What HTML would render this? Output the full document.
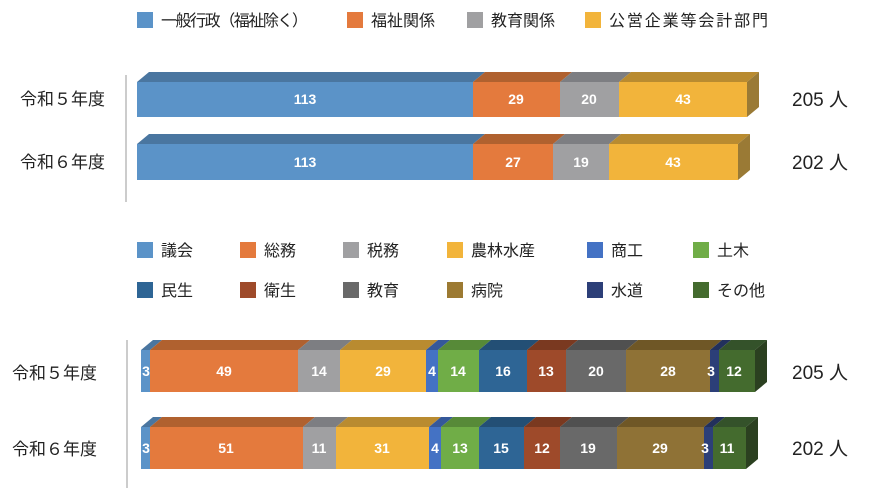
<!DOCTYPE html>
<html><head><meta charset="utf-8"><style>
body{margin:0;background:#fff;width:884px;height:488px;overflow:hidden}
svg text{font-family:"Liberation Sans","Noto Sans CJK JP",sans-serif}
.v{fill:#fff;font-weight:bold;font-size:14px;text-anchor:middle}
.l{fill:#222;font-size:16px}
.k{fill:#222;font-size:17px}
.r{fill:#222;font-size:19px}
</style></head><body>
<svg width="884" height="488" xmlns="http://www.w3.org/2000/svg">
<!-- top legend -->
<rect x="137" y="12" width="16" height="16" fill="#5b93c8"/><text class="l" x="161" y="26" textLength="147">一般行政（福祉除く）</text>
<rect x="347" y="12" width="16" height="16" fill="#e47a3d"/><text class="l" x="371" y="26">福祉関係</text>
<rect x="467" y="12" width="16" height="16" fill="#a0a0a2"/><text class="l" x="491" y="26">教育関係</text>
<rect x="585" y="12" width="16" height="16" fill="#f2b43b"/><text class="l" x="609" y="26" textLength="159">公営企業等会計部門</text>
<line x1="126" y1="75" x2="126" y2="202" stroke="#ccc" stroke-width="2"/>
<text class="k" x="20" y="105">令和５年度</text>
<text class="k" x="20" y="168">令和６年度</text>
<text class="r" x="792" y="106">205 人</text>
<text class="r" x="792" y="169">202 人</text>
<!-- top row1 -->
<polygon points="137,82 149,72 485,72 473,82" fill="#4a76a0"/>
<polygon points="473,82 485,72 572,72 560,82" fill="#b0612f"/>
<polygon points="560,82 572,72 631,72 619,82" fill="#7d7e82"/>
<polygon points="619,82 631,72 759,72 747,82" fill="#b98b30"/>
<polygon points="747,82 759,72 759,107 747,117" fill="#9a7a35"/>
<rect x="137" y="82" width="336" height="35" fill="#5b93c8"/>
<rect x="473" y="82" width="87" height="35" fill="#e47a3d"/>
<rect x="560" y="82" width="59" height="35" fill="#a0a0a2"/>
<rect x="619" y="82" width="128" height="35" fill="#f2b43b"/>
<text class="v" x="305" y="104">113</text><text class="v" x="516" y="104">29</text><text class="v" x="589" y="104">20</text><text class="v" x="683" y="104">43</text>
<!-- top row2 -->
<polygon points="137,144 149,134 485,134 473,144" fill="#4a76a0"/>
<polygon points="473,144 485,134 565,134 553,144" fill="#b0612f"/>
<polygon points="553,144 565,134 621,134 609,144" fill="#7d7e82"/>
<polygon points="609,144 621,134 750,134 738,144" fill="#b98b30"/>
<polygon points="738,144 750,134 750,170 738,180" fill="#9a7a35"/>
<rect x="137" y="144" width="336" height="36" fill="#5b93c8"/>
<rect x="473" y="144" width="80" height="36" fill="#e47a3d"/>
<rect x="553" y="144" width="56" height="36" fill="#a0a0a2"/>
<rect x="609" y="144" width="129" height="36" fill="#f2b43b"/>
<text class="v" x="305" y="167">113</text><text class="v" x="513" y="167">27</text><text class="v" x="581" y="167">19</text><text class="v" x="673" y="167">43</text>
<!-- bottom legend -->
<rect x="137" y="242" width="16" height="16" fill="#5b93c8"/><text class="l" x="161" y="256">議会</text>
<rect x="240" y="242" width="16" height="16" fill="#e47a3d"/><text class="l" x="264" y="256">総務</text>
<rect x="343" y="242" width="16" height="16" fill="#a0a0a2"/><text class="l" x="367" y="256">税務</text>
<rect x="447" y="242" width="16" height="16" fill="#f2b43b"/><text class="l" x="471" y="256">農林水産</text>
<rect x="587" y="242" width="16" height="16" fill="#4472c4"/><text class="l" x="611" y="256">商工</text>
<rect x="693" y="242" width="16" height="16" fill="#70ad47"/><text class="l" x="717" y="256">土木</text>
<rect x="137" y="282" width="16" height="16" fill="#2e6595"/><text class="l" x="161" y="296">民生</text>
<rect x="240" y="282" width="16" height="16" fill="#9e4a2a"/><text class="l" x="264" y="296">衛生</text>
<rect x="343" y="282" width="16" height="16" fill="#696969"/><text class="l" x="367" y="296">教育</text>
<rect x="447" y="282" width="16" height="16" fill="#9c7a32"/><text class="l" x="471" y="296">病院</text>
<rect x="587" y="282" width="16" height="16" fill="#2c3f78"/><text class="l" x="611" y="296">水道</text>
<rect x="693" y="282" width="16" height="16" fill="#446b2e"/><text class="l" x="717" y="296">その他</text>
<line x1="127" y1="340" x2="127" y2="488" stroke="#ccc" stroke-width="2"/>
<text class="k" x="12" y="379">令和５年度</text>
<text class="k" x="12" y="455">令和６年度</text>
<text class="r" x="792" y="379">205 人</text>
<text class="r" x="792" y="455">202 人</text>
<!-- bottom row1 -->
<g>
<polygon points="141,350 153,340 162,340 150,350" fill="#4a76a0"/>
<polygon points="150,350 162,340 310,340 298,350" fill="#b0612f"/>
<polygon points="298,350 310,340 352,340 340,350" fill="#7d7e82"/>
<polygon points="340,350 352,340 438,340 426,350" fill="#b98b30"/>
<polygon points="426,350 438,340 450,340 438,350" fill="#35589a"/>
<polygon points="438,350 450,340 491,340 479,350" fill="#578a38"/>
<polygon points="479,350 491,340 539,340 527,350" fill="#234f75"/>
<polygon points="527,350 539,340 578,340 566,350" fill="#7a3920"/>
<polygon points="566,350 578,340 638,340 626,350" fill="#505050"/>
<polygon points="626,350 638,340 722,340 710,350" fill="#6f5726"/>
<polygon points="710,350 722,340 731,340 719,350" fill="#22305c"/>
<polygon points="719,350 731,340 767,340 755,350" fill="#34522a"/>
<polygon points="755,350 767,340 767,382 755,392" fill="#2b4020"/>
<rect x="141" y="350" width="9" height="42" fill="#5b93c8"/>
<rect x="150" y="350" width="148" height="42" fill="#e47a3d"/>
<rect x="298" y="350" width="42" height="42" fill="#a0a0a2"/>
<rect x="340" y="350" width="86" height="42" fill="#f2b43b"/>
<rect x="426" y="350" width="12" height="42" fill="#4472c4"/>
<rect x="438" y="350" width="41" height="42" fill="#70ad47"/>
<rect x="479" y="350" width="48" height="42" fill="#2e6595"/>
<rect x="527" y="350" width="39" height="42" fill="#9e4a2a"/>
<rect x="566" y="350" width="60" height="42" fill="#696969"/>
<rect x="626" y="350" width="84" height="42" fill="#8f7236"/>
<rect x="710" y="350" width="9" height="42" fill="#2c3f78"/>
<rect x="719" y="350" width="36" height="42" fill="#446b2e"/>
<text class="v" x="146" y="376">3</text><text class="v" x="224" y="376">49</text><text class="v" x="319" y="376">14</text><text class="v" x="383" y="376">29</text><text class="v" x="432" y="376">4</text><text class="v" x="458" y="376">14</text><text class="v" x="503" y="376">16</text><text class="v" x="546" y="376">13</text><text class="v" x="596" y="376">20</text><text class="v" x="668" y="376">28</text><text class="v" x="711" y="376">3</text><text class="v" x="734" y="376">12</text>
</g>
<!-- bottom row2 -->
<g>
<polygon points="141,427 153,417 162,417 150,427" fill="#4a76a0"/>
<polygon points="150,427 162,417 315,417 303,427" fill="#b0612f"/>
<polygon points="303,427 315,417 348,417 336,427" fill="#7d7e82"/>
<polygon points="336,427 348,417 441,417 429,427" fill="#b98b30"/>
<polygon points="429,427 441,417 453,417 441,427" fill="#35589a"/>
<polygon points="441,427 453,417 491,417 479,427" fill="#578a38"/>
<polygon points="479,427 491,417 536,417 524,427" fill="#234f75"/>
<polygon points="524,427 536,417 572,417 560,427" fill="#7a3920"/>
<polygon points="560,427 572,417 629,417 617,427" fill="#505050"/>
<polygon points="617,427 629,417 716,417 704,427" fill="#6f5726"/>
<polygon points="704,427 716,417 725,417 713,427" fill="#22305c"/>
<polygon points="713,427 725,417 758,417 746,427" fill="#34522a"/>
<polygon points="746,427 758,417 758,459 746,469" fill="#2b4020"/>
<rect x="141" y="427" width="9" height="42" fill="#5b93c8"/>
<rect x="150" y="427" width="153" height="42" fill="#e47a3d"/>
<rect x="303" y="427" width="33" height="42" fill="#a0a0a2"/>
<rect x="336" y="427" width="93" height="42" fill="#f2b43b"/>
<rect x="429" y="427" width="12" height="42" fill="#4472c4"/>
<rect x="441" y="427" width="38" height="42" fill="#70ad47"/>
<rect x="479" y="427" width="45" height="42" fill="#2e6595"/>
<rect x="524" y="427" width="36" height="42" fill="#9e4a2a"/>
<rect x="560" y="427" width="57" height="42" fill="#696969"/>
<rect x="617" y="427" width="87" height="42" fill="#8f7236"/>
<rect x="704" y="427" width="9" height="42" fill="#2c3f78"/>
<rect x="713" y="427" width="33" height="42" fill="#446b2e"/>
<text class="v" x="146" y="453">3</text><text class="v" x="226" y="453">51</text><text class="v" x="319" y="453">11</text><text class="v" x="382" y="453">31</text><text class="v" x="435" y="453">4</text><text class="v" x="460" y="453">13</text><text class="v" x="501" y="453">15</text><text class="v" x="542" y="453">12</text><text class="v" x="588" y="453">19</text><text class="v" x="660" y="453">29</text><text class="v" x="705" y="453">3</text><text class="v" x="727" y="453">11</text>
</g>
</svg>
</body></html>
